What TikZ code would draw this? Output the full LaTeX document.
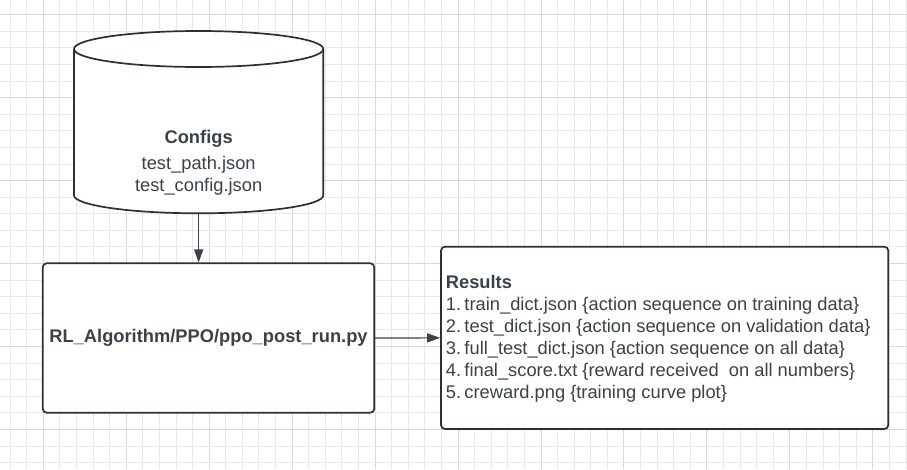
\documentclass[tikz,border=0pt]{standalone}
\usepackage{fontspec}
\setmainfont{Liberation Sans}
\usetikzlibrary{arrows.meta}
\definecolor{txt}{HTML}{3A414A}
\definecolor{edge}{HTML}{2B2F36}
\definecolor{gridminor}{HTML}{E8E8E8}
\definecolor{gridmajor}{HTML}{D9D9D9}
\tikzset{
  shapeline/.style={draw=edge, line width=1.7pt, fill=white},
  boxnode/.style={shapeline, rectangle, rounded corners=4pt, inner sep=0pt},
  lbl/.style={text=txt, inner sep=0pt, font=\fontsize{18.3pt}{22pt}\selectfont},
  conn/.style={draw=txt, line width=1.2pt, -{Triangle[length=13pt,width=9pt]}},
  gminor/.style={draw=gridminor, line width=1.2pt},
  gmajor/.style={draw=gridmajor, line width=1.4pt},
}
\begin{document}
\begin{tikzpicture}[x=1pt,y=1pt]
\useasboundingbox (0,0) rectangle (907,-469);
\fill[white] (0,0) rectangle (907,-469);
% grid
\foreach \k in {-2,...,52}{
  \pgfmathsetmacro{\xx}{floor(43.33+\k*16.59)+0.5}
  \pgfmathtruncatemacro{\mm}{mod(\k+10,5)}
  \ifnum\mm=0\relax
    \draw[gmajor] (\xx,0) -- (\xx,-469);
  \else
    \draw[gminor] (\xx,0) -- (\xx,-469);
  \fi
}
\foreach \k in {0,...,28}{
  \pgfmathsetmacro{\yy}{-floor(14.7+\k*16.59)-0.5}
  \pgfmathtruncatemacro{\mm}{mod(\k,5)}
  \ifnum\mm=0\relax
    \draw[gmajor] (0,\yy) -- (907,\yy);
  \else
    \draw[gminor] (0,\yy) -- (907,\yy);
  \fi
}
% cylinder
\fill[white] (74,-49) -- (74,-195.3) arc[start angle=180,end angle=360,x radius=124.65,y radius=18] -- (323.3,-49) arc[start angle=0,end angle=180,x radius=124.65,y radius=18] -- cycle;
\draw[draw=edge, line width=1.7pt] (74,-49) -- (74,-195.3) arc[start angle=180,end angle=360,x radius=124.65,y radius=18] -- (323.3,-49);
\draw[draw=edge, line width=1.7pt] (198.65,-49) ellipse[x radius=124.65, y radius=18];
\node[inner sep=0pt, minimum width=249.3pt, minimum height=182.3pt] (cyl) at (198.65,-122.15) {};
\node[lbl, anchor=base, font=\fontsize{18.3pt}{22pt}\selectfont\bfseries] (cfgt) at (198.65,-143.3) {Configs};
\node[lbl, anchor=base] (cfga) at (198.65,-169.3) {test\_path.json};
\node[lbl, anchor=base] (cfgb) at (198.65,-191) {test\_config.json};
% algorithm box
\node[boxnode, minimum width=331.6pt, minimum height=149.4pt, text=txt, font=\fontsize{18.3pt}{22pt}\selectfont\bfseries] (algo) at (208.5,-338) {RL\_Algorithm/PPO/ppo\_post\_run.py};
% results box
\node[boxnode, minimum width=447.3pt, minimum height=182.3pt] (res) at (664.65,-337.85) {};
\node[lbl, anchor=base west, font=\fontsize{18.3pt}{22pt}\selectfont\bfseries] (r0) at (445.7,-288.3) {Results};
\node[lbl, anchor=base west] (r1) at (445.7,-310.3) {\makebox[18.6pt][l]{1.}train\_dict.json \{action sequence on training data\}};
\node[lbl, anchor=base west] (r2) at (445.7,-332.3) {\makebox[18.6pt][l]{2.}test\_dict.json \{action sequence on validation data\}};
\node[lbl, anchor=base west] (r3) at (445.7,-354.3) {\makebox[18.6pt][l]{3.}full\_test\_dict.json \{action sequence on all data\}};
\node[lbl, anchor=base west] (r4) at (445.7,-376.3) {\makebox[18.6pt][l]{4.}final\_score.txt \{reward received\ \ on all numbers\}};
\node[lbl, anchor=base west] (r5) at (445.7,-398.3) {\makebox[18.6pt][l]{5.}creward.png \{training curve plot\}};
% connectors
\draw[conn] (cyl.south) -- (cyl.south |- algo.north);
\draw[conn] (algo.east) -- (res.west);
\end{tikzpicture}
\end{document}
